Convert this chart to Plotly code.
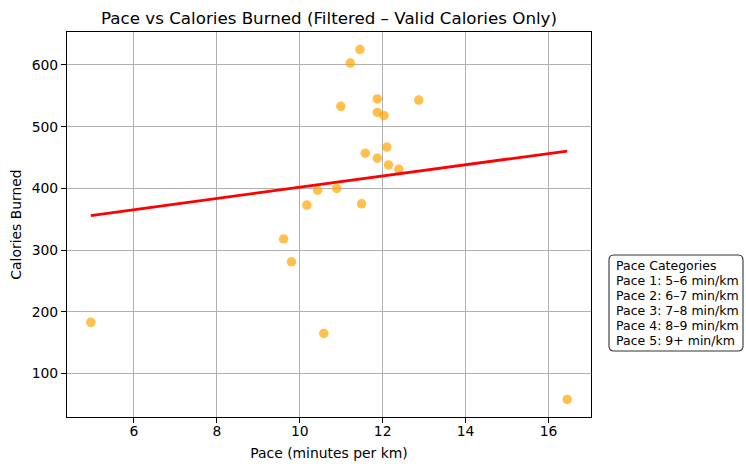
import numpy as np
import plotly.graph_objects as go

# Data
pace = [4.96, 9.61, 9.80, 10.17, 10.43, 10.89, 10.58, 10.99, 11.22, 11.45, 11.49,
        11.58, 11.87, 11.87, 11.87, 12.03, 12.10, 12.14, 12.39, 12.87, 16.45]
calories = [183, 318, 281, 373, 397, 400, 165, 533, 603, 625, 375,
            457, 545, 523, 449, 518, 467, 438, 431, 543, 58]
x_ticks = [6, 8, 10, 12, 14, 16]
y_ticks = [100, 200, 300, 400, 500, 600]
legend_lines = ["Pace Categories", "Pace 1: 5–6 min/km", "Pace 2: 6–7 min/km",
                "Pace 3: 7–8 min/km", "Pace 4: 8–9 min/km", "Pace 5: 9+ min/km"]
title = "Pace vs Calories Burned (Filtered – Valid Calories Only)"

x = np.array(pace)
y = np.array(calories)
slope, intercept = np.polyfit(x, y, 1)
xl = np.array([x.min(), x.max()])
yl = slope * xl + intercept

def pad(a):
    r = a.max() - a.min()
    return [a.min() - 0.05 * r, a.max() + 0.05 * r]

W, H = 746, 470
L, R, T, B = 67, 155, 32, 53
pw, ph = W - L - R, H - T - B

fig = go.Figure()
fig.add_trace(go.Scatter(x=x, y=y, mode="markers",
                         marker=dict(color="rgba(255,165,0,0.7)", size=9.5, line=dict(width=0)),
                         showlegend=False, hoverinfo="skip"))
fig.add_trace(go.Scatter(x=xl, y=yl, mode="lines",
                         line=dict(color="red", width=2.8), showlegend=False, hoverinfo="skip"))

axis_common = dict(showgrid=True, gridcolor="#b0b0b0", gridwidth=0.8,
                   showline=True, linecolor="black", linewidth=1.1, mirror=True,
                   ticks="outside", ticklen=5, tickwidth=1.1, tickcolor="black",
                   zeroline=False, automargin=False,
                   tickfont=dict(family="DejaVu Sans", size=13.9, color="black"))

fig.update_layout(
    width=W, height=H,
    margin=dict(l=L, r=R, t=T, b=B, autoexpand=False),
    paper_bgcolor="white", plot_bgcolor="white",
    font=dict(family="DejaVu Sans", color="black"),
    title=dict(text=title, x=(L + pw / 2) / W, xanchor="center", xref="container",
               y=1 - 18 / H, yanchor="middle", yref="container",
               font=dict(size=16.7, family="DejaVu Sans", color="black")),
    xaxis=dict(range=pad(x), tickvals=x_ticks, ticklabelstandoff=-4, **axis_common,
               title=dict(text="Pace (minutes per km)", standoff=10,
                          font=dict(size=13.9, family="DejaVu Sans"))),
    yaxis=dict(range=pad(y), tickvals=y_ticks, **axis_common,
               title=dict(text="Calories Burned", standoff=6,
                          font=dict(size=13.9, family="DejaVu Sans"))),
)

# Rounded legend-like text box
def px2x(px):
    return (px - L) / pw

def py2y(py):
    return (H - B - py) / ph

x0, x1 = px2x(609), px2x(743)
y0, y1 = py2y(351), py2y(255)
rx, ry = 5 / pw, 5 / ph
path = (f"M {x0+rx},{y0} L {x1-rx},{y0} Q {x1},{y0} {x1},{y0+ry} "
        f"L {x1},{y1-ry} Q {x1},{y1} {x1-rx},{y1} L {x0+rx},{y1} Q {x0},{y1} {x0},{y1-ry} "
        f"L {x0},{y0+ry} Q {x0},{y0} {x0+rx},{y0} Z")
fig.add_shape(type="path", path=path, xref="paper", yref="paper",
              line=dict(color="#333333", width=1.1), fillcolor="white")

for i, line in enumerate(legend_lines):
    fig.add_annotation(text=line, xref="paper", yref="paper",
                       x=px2x(614), y=py2y(265 + 15 * i), xanchor="left", yanchor="middle",
                       showarrow=False, font=dict(size=12.5, family="DejaVu Sans", color="black"))

fig.write_html("out.html", config={"displayModeBar": False},
               post_script="document.body.style.margin='0';document.body.style.overflow='hidden';")
